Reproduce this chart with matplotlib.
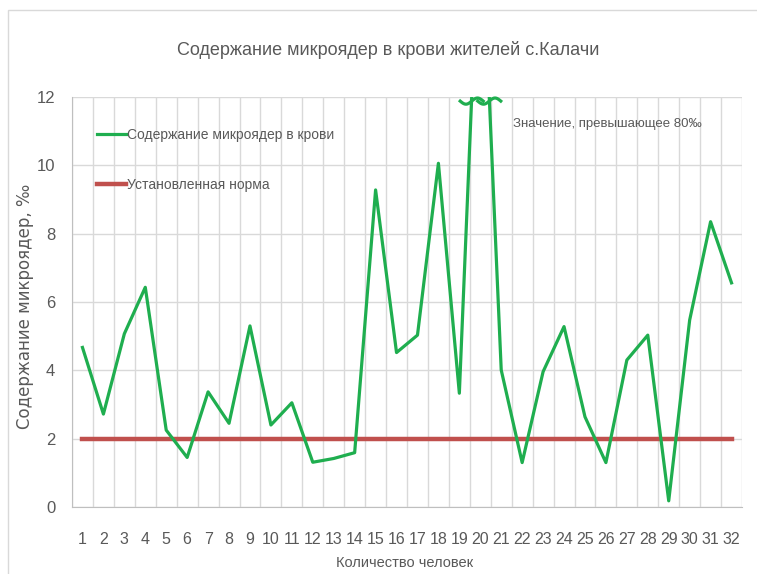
import numpy as np
import matplotlib.pyplot as plt
from matplotlib.patches import Rectangle

people = np.arange(1, 33)
micronuclei = [4.67, 2.72, 5.07, 6.43, 2.25, 1.45, 3.37, 2.45, 5.30, 2.40,
               3.05, 1.31, 1.42, 1.59, 9.28, 4.52, 5.03, 10.06, 3.33, 18.0,
               4.01, 1.30, 3.96, 5.28, 2.64, 1.30, 4.30, 5.03, 0.18, 5.47,
               8.35, 6.56]
norm = [2] * 32

title = "Содержание микроядер в крови жителей с.Калачи"
series_label = "Содержание микроядер в крови"
norm_label = "Установленная норма"
note = "Значение, превышающее 80‰"

narrow = ['Liberation Sans', 'DejaVu Sans']
gray = '#595959'
green = '#1fae4f'
red = '#c0504d'

fig = plt.figure(figsize=(7.57, 5.74), dpi=100)
fig.patches.append(Rectangle((8 / 757, -0.1), 1.2, 1 - 10 / 574 + 0.1,
                             transform=fig.transFigure, fill=False,
                             edgecolor='#d9d9d9', linewidth=1))
ax = fig.add_axes([72 / 757, 1 - 507 / 574, 670 / 757, 410 / 574])

ax.plot(people, micronuclei, color=green, linewidth=2.3, label=series_label, zorder=3)
ax.plot(people, norm, color=red, linewidth=3.2, label=norm_label, zorder=2)

# wavy break marks where the line leaves the top of the chart
top = 12
for i in range(len(micronuclei) - 1):
    a, b = micronuclei[i], micronuclei[i + 1]
    if (a - top) * (b - top) < 0:
        xc = people[i] + (top - a) / (b - a)
        t = np.linspace(-0.55, 0.55, 40)
        ax.plot(xc + t, top - 0.12 + 0.09 * np.sin(2 * np.pi * t / 1.1),
                color=green, linewidth=2.3, clip_on=False, zorder=4)

ax.text(21.55, 11.2, note, fontsize=9.5, color=gray, family=narrow, va='center')

ax.set_xlim(0.5, 32.5)
ax.set_ylim(0, 12)
ax.set_xticks(people)
ax.set_xticks(np.arange(0.5, 33, 1), minor=True)
ax.set_yticks(range(0, 13, 2))
ax.grid(True, which='minor', axis='x', color='#d9d9d9', linewidth=1)
ax.grid(True, which='major', axis='y', color='#d9d9d9', linewidth=1)
ax.set_axisbelow(True)
for s in ['top', 'right']:
    ax.spines[s].set_visible(False)
for s in ['left', 'bottom']:
    ax.spines[s].set_color('#bfbfbf')
ax.tick_params(which='both', length=0)
ax.tick_params(axis='x', pad=18, labelsize=11.5, labelcolor=gray)
ax.tick_params(axis='y', pad=12, labelsize=12, labelcolor=gray)
for lab in ax.get_xticklabels() + ax.get_yticklabels():
    lab.set_family(narrow)

ax.set_xlabel("Количество человек", fontsize=10.5, color=gray, family=narrow, va='center')
ax.xaxis.set_label_coords(0.497, -0.137)
ax.set_ylabel("Содержание микроядер, ‰", fontsize=12, color=gray, va='center')
ax.yaxis.set_label_coords(-0.07, 0.49)
fig.text(388 / 757, 1 - 50 / 574, title, fontsize=13, color=gray, family=narrow,
         ha='center', va='center')

leg = ax.legend(loc='upper left', bbox_to_anchor=(0.018, 0.955), frameon=False,
                handlelength=2.1, handletextpad=0.1, labelspacing=2.6,
                prop={'family': narrow, 'size': 10})
for t in leg.get_texts():
    t.set_color(gray)

fig.savefig('out.png', dpi=100)
